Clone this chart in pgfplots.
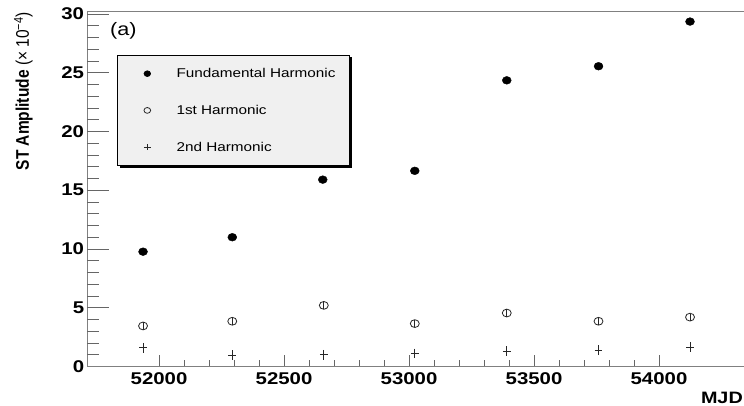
\documentclass[border=0pt]{standalone}
\usepackage{fontspec}
\setmainfont{Liberation Sans}
\newfontfamily\stsans[FakeStretch=1.2]{Liberation Sans}
\usepackage{pgfplots}
\pgfplotsset{compat=1.18}
\usetikzlibrary{shadows}

\pgfplotstableread{
x y e
51936 9.77 0.3
52293 11.0 0.25
52655 15.9 0.3
53023 16.65 0.25
53391 24.35 0.25
53758 25.55 0.25
54124 29.35 0.25
}\fund
\pgfplotstableread{
x y e
51936 3.45 0.35
52293 3.85 0.3
52659 5.2 0.35
53023 3.65 0.3
53391 4.55 0.3
53758 3.85 0.3
54124 4.2 0.3
}\first
\pgfplotstableread{
x y e
51936 1.6 0.3
52293 0.98 0.3
52659 1.0 0.3
53023 1.12 0.3
53391 1.32 0.3
53758 1.38 0.3
54124 1.66 0.3
}\second

\begin{document}
\begin{tikzpicture}
\begin{axis}[
  name=ax,
  scale only axis, width=656.7pt, height=355.5pt,
  xmin=51713, xmax=54340, ymin=0, ymax=30.25,
  axis x line*=bottom, axis y line*=left,
  axis line style={black!50, line width=0.9pt},
  xtick={52000,52500,53000,53500,54000},
  ytick={0,5,10,15,20,25,30},
  minor x tick num=4, minor y tick num=4,
  tick align=inside,
  major tick length=11pt, minor tick length=6pt,
  every tick/.style={black!60, line width=0.8pt},
  scaled x ticks=false,
  /pgf/number format/.cd, 1000 sep={}, assume math mode=true, /pgfplots/.cd,
  ticklabel style={font=\fontsize{17}{17}\stsans\bfseries},
  xticklabel style={yshift=-2.8pt},
  yticklabel style={inner xsep=3pt},
  xlabel={MJD},
  every axis x label/.style={at={(rel axis cs:1,0)}, anchor=north east, inner sep=0pt, yshift=-25pt, xshift=-1pt, font=\fontsize{16.5}{16.5}\stsans\bfseries},
  ylabel={\textbf{ST Amplitude} (× 10\textsuperscript{−4})},
  every axis y label/.style={at={([xshift=-54.3pt,yshift=-1pt]rel axis cs:0,1)}, rotate=90, yscale=1.18, anchor=south east, inner sep=0pt, font=\fontsize{15.5}{15.5}\selectfont},
  legend image code/.code={\path (-15.4pt,0pt); \draw[#1, mark size=2.9pt] plot coordinates {(0pt,0pt)};},
  legend cell align=left,
  legend style={at={(0.0457,0.8762)}, anchor=north west, draw=black, line width=0.6pt, fill=gray!12,
    inner xsep=14pt, inner ysep=13pt, row sep=26pt, column sep=25.9pt,
    nodes={inner sep=0pt}, font=\fontsize{12.75}{12.75}\stsans,
    drop shadow={shadow xshift=2pt, shadow yshift=-2pt, fill=black, opacity=1}},
  clip=false,
]
\addplot[only marks, mark=*, mark size=3.9pt, black, mark options={xscale=1.15},
  error bars/.cd, y dir=both, y explicit, error mark=none, error bar style={line width=0.8pt}]
  table[x=x, y=y, y error=e] {\fund};
\addlegendentry{Fundamental Harmonic}
\addplot[only marks, mark=o, mark size=3.9pt, black!85, mark options={xscale=1.15, line width=0.8pt},
  error bars/.cd, y dir=both, y explicit, error mark=none, error bar style={line width=0.8pt}]
  table[x=x, y=y, y error=e] {\first};
\addlegendentry{1st Harmonic}
\addplot[only marks, mark=+, mark size=3.3pt, black!85, mark options={xscale=1.15, line width=0.8pt},
  error bars/.cd, y dir=both, y explicit, error mark=-, error mark options={mark size=1.3pt, line width=0.6pt}, error bar style={line width=0.8pt}]
  table[x=x, y=y, y error=e] {\second};
\addlegendentry{2nd Harmonic}
\draw[black!50, line width=0.9pt] (rel axis cs:0,1) -- (rel axis cs:1,1);
\pgfplotsinvokeforeach{5,10,15,20,25,30}{\draw[black!60, line width=0.8pt] (axis cs:51713,#1) -- ++(22pt,0pt);}
\pgfplotsinvokeforeach{1,2,3,4,6,7,8,9,11,12,13,14,16,17,18,19,21,22,23,24,26,27,28,29}{\draw[black!60, line width=0.8pt] (axis cs:51713,#1) -- ++(12pt,0pt);}
\node[anchor=north west, inner sep=0pt, font=\fontsize{18}{18}\stsans] at (rel axis cs:0.0346,0.969) {(a)};
\end{axis}
\pgfresetboundingbox
\path ([shift={(-87.3pt,-39.5pt)}]ax.south west) rectangle ([shift={(0pt,11pt)}]ax.north east);
\end{tikzpicture}
\end{document}
